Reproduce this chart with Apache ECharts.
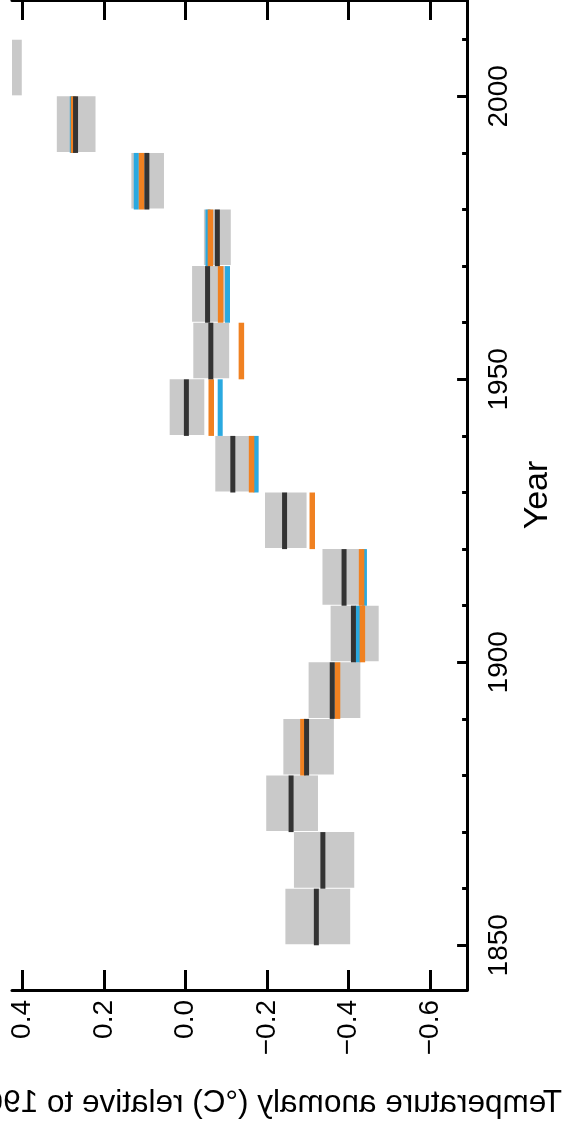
<!DOCTYPE html>
<html>
<head>
<meta charset="utf-8">
<script src="https://cdn.jsdelivr.net/npm/echarts@6/dist/echarts.min.js"></script>
<style>
html,body{margin:0;padding:0;background:#fff;}
#chart{width:563px;height:1126px;}
</style>
</head>
<body>
<div id="chart"></div>
<script>
// Decade start years
const decades = [1850, 1860, 1870, 1880, 1890, 1900, 1910, 1920, 1930, 1940, 1950, 1960, 1970, 1980, 1990, 2000];
// Grey uncertainty range (lower / upper bound, °C)
const rangeLow  = [-0.404, -0.414, -0.325, -0.364, -0.429, -0.474, -0.443, -0.297, -0.179, -0.046, -0.107, -0.101, -0.111, 0.053, 0.221, 0.402];
const rangeHigh = [-0.245, -0.266, -0.198, -0.240, -0.302, -0.356, -0.336, -0.195, -0.073, 0.039, -0.019, -0.016, -0.045, 0.133, 0.316, 0.46];
// Central estimate (dark)
const centralVals = [-0.321, -0.337, -0.259, -0.297, -0.360, -0.412, -0.389, -0.243, -0.116, -0.002, -0.062, -0.054, -0.078, 0.095, 0.270, null];
// Orange estimate
const orangeVals = [null, null, null, -0.288, -0.373, -0.434, -0.432, -0.311, -0.162, -0.063, -0.137, -0.086, -0.061, 0.108, 0.275, null];
// Blue estimate
const blueVals = [null, null, null, null, null, -0.423, -0.439, null, -0.173, -0.085, null, -0.103, -0.055, 0.121, 0.278, null];
// Tick labels
const tempTicks = [0.4, 0.2, 0.0, -0.2, -0.4, -0.6];
const yearMajorTicks = [1850, 1900, 1950, 2000];
const yearMinorTicks = [1850, 1860, 1870, 1880, 1890, 1900, 1910, 1920, 1930, 1940, 1950, 1960, 1970, 1980, 1990, 2000, 2010];
const decadeSpan = 10;

const FONT = '"Liberation Sans", Arial, Helvetica, sans-serif';
const chart = echarts.init(document.getElementById('chart'), null, {renderer: 'canvas'});

function fmtTemp(v) {
  const s = Math.abs(v).toFixed(1);
  return (v < -1e-9 ? '\u2212' : '') + s;
}

function boxRender(params, api) {
  const lo = api.value(0), d = api.value(1), hi = api.value(2);
  const p1 = api.coord([hi, d + decadeSpan]);
  const p2 = api.coord([lo, d]);
  const cs = params.coordSys;
  const rect = echarts.graphic.clipRectByRect({
    x: Math.min(p1[0], p2[0]), y: Math.min(p1[1], p2[1]),
    width: Math.abs(p2[0] - p1[0]), height: Math.abs(p2[1] - p1[1]) - 1
  }, {x: cs.x, y: cs.y, width: cs.width, height: cs.height});
  if (!rect) return;
  return {type: 'rect', shape: rect, style: {fill: '#c9c9c9'}};
}

function lineRender(color, width) {
  return function (params, api) {
    const v = api.value(0), d = api.value(1);
    const a = api.coord([v, d]);
    const b = api.coord([v, d + decadeSpan]);
    return {type: 'line', shape: {x1: a[0], y1: a[1], x2: b[0], y2: b[1]},
      style: {stroke: color, lineWidth: width}};
  };
}

const boxData = decades.map((d, i) => [rangeLow[i], d, rangeHigh[i]]);
const mk = arr => decades.map((d, i) => arr[i] === null ? null : [arr[i], d]).filter(x => x);

const axisLineStyle = {color: '#000', width: 3};

const option = {
  backgroundColor: '#ffffff',
  animation: false,
  grid: {left: 12, right: 93, top: -4, bottom: 136, containLabel: false},
  xAxis: [{
    type: 'value', inverse: true, min: -0.691, max: 0.426, position: 'bottom',
    axisLine: {show: true, onZero: false, lineStyle: axisLineStyle},
    axisTick: {show: true, inside: true, length: 20, lineStyle: {color: '#000', width: 3}, customValues: tempTicks},
    axisLabel: {show: true, rotate: 90, margin: 10, fontSize: 28, color: '#000', fontFamily: FONT,
      customValues: tempTicks, formatter: fmtTemp},
    splitLine: {show: false}
  }, {
    type: 'value', inverse: true, min: -0.691, max: 0.426, position: 'top',
    axisLine: {show: true, onZero: false, lineStyle: axisLineStyle},
    axisTick: {show: true, inside: true, length: 20, lineStyle: {color: '#000', width: 3}, customValues: tempTicks},
    axisLabel: {show: false},
    splitLine: {show: false}
  }],
  yAxis: [{
    type: 'value', min: 1842.1, max: 2017.02, position: 'right',
    name: 'Year', nameLocation: 'middle', nameRotate: 90, nameGap: 52,
    nameTextStyle: {fontSize: 34, color: '#000', fontFamily: FONT},
    axisLine: {show: true, onZero: false, lineStyle: axisLineStyle},
    axisTick: {show: true, inside: true, length: 10, lineStyle: {color: '#000', width: 3}, customValues: yearMajorTicks},
    axisLabel: {show: true, rotate: 90, margin: 18, fontSize: 28, color: '#000', fontFamily: FONT,
      customValues: yearMajorTicks, formatter: v => String(Math.round(v))},
    splitLine: {show: false}
  }, {
    type: 'value', min: 1842.1, max: 2017.02, position: 'right',
    axisLine: {show: false, onZero: false},
    axisTick: {show: true, inside: true, length: 5, lineStyle: {color: '#000', width: 3}, customValues: yearMinorTicks},
    axisLabel: {show: false},
    splitLine: {show: false}
  }],
  series: [
    {type: 'custom', name: 'range', xAxisIndex: 0, yAxisIndex: 0, renderItem: boxRender,
      encode: {x: [0, 2], y: 1}, data: boxData, silent: true, z: 1},
    {type: 'custom', name: 'blue', xAxisIndex: 0, yAxisIndex: 0, renderItem: lineRender('#2aa9e0', 5),
      encode: {x: 0, y: 1}, data: mk(blueVals), silent: true, z: 2},
    {type: 'custom', name: 'orange', xAxisIndex: 0, yAxisIndex: 0, renderItem: lineRender('#f08121', 5.5),
      encode: {x: 0, y: 1}, data: mk(orangeVals), silent: true, z: 3},
    {type: 'custom', name: 'central', xAxisIndex: 0, yAxisIndex: 0, renderItem: lineRender('#333333', 5),
      encode: {x: 0, y: 1}, data: mk(centralVals), silent: true, z: 4}
  ],
  graphic: [{
    type: 'text', x: 562, y: 1103, scaleX: -1, silent: true,
    style: {text: 'Temperature anomaly (\u00B0C) relative to 1961\u20131990', font: '31.5px ' + FONT,
      fill: '#000', textAlign: 'left', textVerticalAlign: 'middle'}
  }]
};
chart.setOption(option);
</script>
</body>
</html>
